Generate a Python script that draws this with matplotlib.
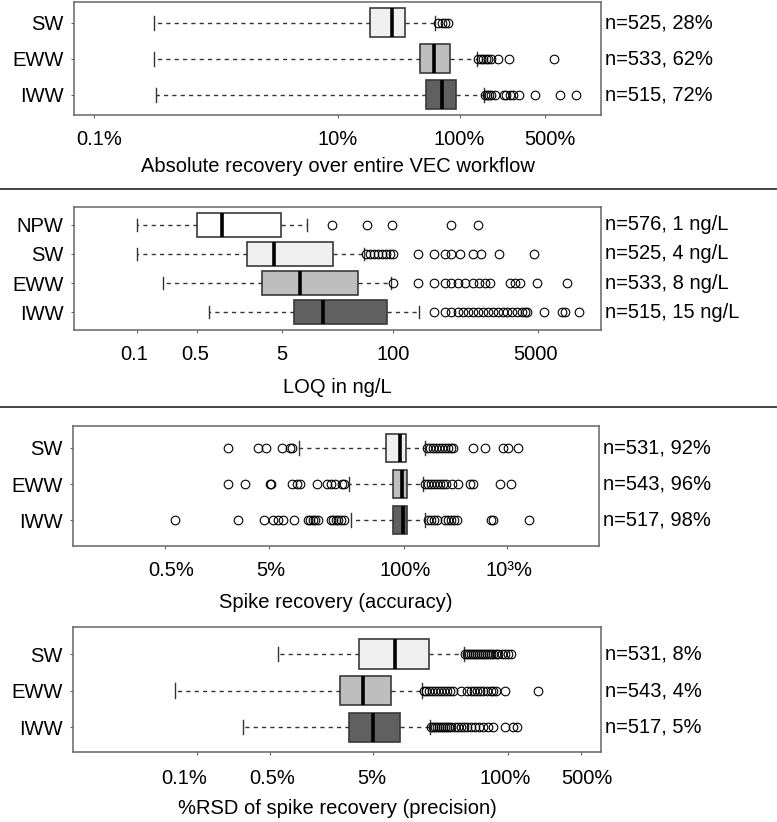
import matplotlib
matplotlib.use('Agg')
import matplotlib.pyplot as plt
from matplotlib.transforms import ScaledTranslation
from matplotlib.lines import Line2D
from matplotlib.ticker import NullLocator

plt.rcParams['font.family'] = ['Liberation Sans', 'DejaVu Sans']

# ---------------- data ----------------
# Panel 1: absolute recovery (%)
p1_groups = ['SW', 'EWW', 'IWW']
p1_counts = [525, 533, 515]
p1_whislo = [0.31, 0.31, 0.32]
p1_q1 = [18.4, 47.3, 52.8]
p1_med = [28, 62, 72]
p1_q3 = [35.7, 82.9, 93.6]
p1_whishi = [62.7, 137.7, 156.7]
p1_fliers = [
    [66.8, 71.4, 75.6, 80.5],
    [141.6, 148.3, 155.3, 162.9, 170.6, 179.0, 205.6, 255, 587],
    [159.6, 165.9, 172.2, 179, 192.8, 232, 241, 259, 275, 307.6, 416, 664, 905],
]
p1_xticks = [0.1, 10, 100, 500]
p1_xticklabels = ['0.1%', '10%', '100%', '500%']
p1_xlabel = 'Absolute recovery over entire VEC workflow'

# Panel 2: LOQ in ng/L
p2_groups = ['NPW', 'SW', 'EWW', 'IWW']
p2_counts = [576, 525, 533, 515]
p2_whislo = [0.1, 0.1, 0.2, 0.69]
p2_q1 = [0.5, 1.94, 2.93, 6.97]
p2_med = [1, 4, 8, 15]
p2_q3 = [4.8, 19.5, 39.1, 83.6]
p2_whishi = [9.9, 45.8, 93, 199]
p2_fliers = [
    [19.3, 49, 98, 481, 977],
    [48.3, 53.8, 60.0, 66.5, 74.1, 82.6, 91.7, 100.7, 196, 298, 399, 481, 611,
     853, 1070, 1733, 4406],
    [100.7, 196, 298, 399, 481, 571, 698, 853, 1016, 1191, 1362, 2322, 2659,
     3034, 4842, 10790],
    [298, 399, 481, 571, 653, 746, 853, 975, 1114, 1274, 1458, 1664, 1905,
     2175, 2485, 2838, 3243, 3467, 3698, 5754, 9414, 10350, 15070],
]
p2_xticks = [0.1, 0.5, 5, 100, 5000]
p2_xticklabels = ['0.1', '0.5', '5', '100', '5000']
p2_xlabel = 'LOQ in ng/L'

# Panel 3: spike recovery (%)
p3_groups = ['SW', 'EWW', 'IWW']
p3_counts = [531, 543, 517]
p3_whislo = [9.8, 29.8, 30.8]
p3_q1 = [67.2, 78.5, 78.5]
p3_med = [92, 96, 98]
p3_q3 = [105.6, 109, 109]
p3_whishi = [160.6, 155, 160.6]
p3_fliers = [
    [2.03, 3.93, 4.68, 6.73, 7.94, 8.39,
     167.5, 179, 191, 205, 218, 233, 249, 267, 285, 301, 467, 615, 903, 1009, 1271],
    [2.03, 2.95, 5.12, 5.23, 8.39, 9.38, 10.0, 14.6, 18.2, 19.8, 21.6, 25.3, 26.7,
     160.6, 171, 183, 196, 209, 223, 239, 255, 291, 335, 441, 467, 855, 1089],
    [0.63, 2.53, 4.49, 5.52, 6.18, 6.89, 8.77, 11.9, 12.6, 13.3, 14.1, 14.9,
     19.8, 20.9, 22.1, 23.4, 24.7, 26.7,
     171, 183, 196, 209, 249, 267, 285, 304, 325, 703, 725, 1622],
]
p3_xticks = [0.5, 5, 100, 1000]
p3_xticklabels = ['0.5%', '5%', '100%', '10³%']
p3_xlabel = 'Spike recovery (accuracy)'

# Panel 4: %RSD of spike recovery
p4_groups = ['SW', 'EWW', 'IWW']
p4_counts = [531, 543, 517]
p4_whislo = [0.60, 0.061, 0.28]
p4_q1 = [3.67, 2.39, 2.94]
p4_med = [8, 4, 5]
p4_q3 = [17.3, 7.41, 8.95]
p4_whishi = [37.0, 14.8, 17.7]
p4_fliers = [
    [38.3, 39.9, 41.7, 43.6, 45.6, 47.6, 49.8, 52.1, 54.3, 56.8, 59.4, 62.1,
     64.9, 67.8, 71.6, 75.7, 80.0, 86.3, 92.3, 98.4, 105.2],
    [15.3, 16.2, 17.3, 18.5, 19.8, 21.1, 22.5, 24.0, 25.7, 27.5, 29.4, 35.0,
     39.9, 43.6, 46.6, 49.8, 53.2, 57.4, 62.1, 67.8, 71.6, 75.7, 92.3, 192.8],
    [18.1, 18.9, 19.8, 20.7, 21.6, 22.5, 23.5, 24.6, 25.7, 26.9, 28.1, 30.7,
     32.7, 35.0, 37.4, 39.9, 43.6, 47.6, 52.1, 57.4, 64.1, 71.6, 92.3, 111.2, 120.2],
]
p4_xticks = [0.1, 0.5, 5, 100, 500]
p4_xticklabels = ['0.1%', '0.5%', '5%', '100%', '500%']
p4_xlabel = '%RSD of spike recovery (precision)'

# ---------------- style / layout ----------------
W, H, DPI = 777, 822, 100
FS = 14.5
FILL = {'NPW': '#ffffff', 'SW': '#f0f0f0', 'EWW': '#bebebe', 'IWW': '#606060'}

fig = plt.figure(figsize=(W / DPI, H / DPI), dpi=DPI)


def ax_at(x0, y0, x1, y1):
    return fig.add_axes([x0 / W, 1 - y1 / H, (x1 - x0) / W, (y1 - y0) / H])


def panel(box, xlim, ylim, groups, counts, whislo, q1, med, q3, whishi, fliers,
          xticks, xticklabels, label_dx, xlabel, xlabel_y, suffix, xpad=8):
    ax = ax_at(*box)
    n = len(groups)
    positions = list(range(n, 0, -1))
    stats = []
    for i in range(n):
        stats.append(dict(whislo=whislo[i], q1=q1[i], med=med[i], q3=q3[i],
                          whishi=whishi[i], fliers=fliers[i], label=groups[i]))
    res = ax.bxp(stats, positions=positions, widths=0.8, orientation='horizontal',
                 patch_artist=True, capwidths=0.4,
                 boxprops=dict(edgecolor='#3a3a3a', linewidth=1.2),
                 medianprops=dict(color='black', linewidth=2.6, solid_capstyle='butt'),
                 whiskerprops=dict(color='#333333', linewidth=1.0, linestyle=(0, (3, 3))),
                 capprops=dict(color='#333333', linewidth=1.0),
                 flierprops=dict(marker='o', markerfacecolor='none',
                                 markeredgecolor='black', markersize=6.2,
                                 markeredgewidth=0.8))
    for patch, g in zip(res['boxes'], groups):
        patch.set_facecolor(FILL[g])
    ax.set_xscale('log')
    ax.set_xlim(*xlim)
    ax.set_ylim(*ylim)
    ax.set_yticks(positions, groups)
    ax.set_xticks(xticks, xticklabels)
    ax.xaxis.set_minor_locator(NullLocator())
    for sp in ax.spines.values():
        sp.set_color('#666666')
        sp.set_linewidth(1.1)
    ax.tick_params(axis='both', labelsize=FS, length=2.5, width=0.8,
                   color='#666666', labelcolor='black')
    ax.tick_params(axis='x', pad=xpad)
    ax.tick_params(axis='y', pad=5)
    for lab, dx in zip(ax.get_xticklabels(), label_dx):
        lab.set_transform(lab.get_transform() +
                          ScaledTranslation(dx / DPI, 0, fig.dpi_scale_trans))
    for i in range(n):
        ax.annotate(f'n={counts[i]}, {med[i]:g}{suffix}', xy=(1, positions[i]),
                    xycoords=ax.get_yaxis_transform(), xytext=(3, 0),
                    textcoords='offset points', ha='left', va='center',
                    fontsize=FS, annotation_clip=False)
    cx = (box[0] + box[2]) / 2
    fig.text(cx / W, 1 - xlabel_y / H, xlabel, ha='center', va='center', fontsize=FS)
    return ax


panel((74, 2, 601, 115), (0.0686, 1439), (0.44, 3.58),
      p1_groups, p1_counts, p1_whislo, p1_q1, p1_med, p1_q3, p1_whishi, p1_fliers,
      p1_xticks, p1_xticklabels, [5, 0, -1, 5], p1_xlabel, 166, '%')
panel((74, 207, 601, 330), (0.01828, 27100), (0.38, 4.62),
      p2_groups, p2_counts, p2_whislo, p2_q1, p2_med, p2_q3, p2_whishi, p2_fliers,
      p2_xticks, p2_xticklabels, [-3, -2, 0, 0, -3], p2_xlabel, 387, ' ng/L')
panel((73, 426, 599, 546), (0.0649, 7656), (0.28, 3.61),
      p3_groups, p3_counts, p3_whislo, p3_q1, p3_med, p3_q3, p3_whishi, p3_fliers,
      p3_xticks, p3_xticklabels, [6, 2, 2, 2], p3_xlabel, 602, '%')
panel((73, 627, 601, 752), (0.00638, 780), (0.32, 3.74),
      p4_groups, p4_counts, p4_whislo, p4_q1, p4_med, p4_q3, p4_whishi, p4_fliers,
      p4_xticks, p4_xticklabels, [-13, 3, -2, -3, 6], p4_xlabel, 808, '%', xpad=10)

for ysep in (189, 407):
    fig.add_artist(Line2D([0, 1], [1 - ysep / H] * 2, color='#444444', linewidth=1.4,
                          transform=fig.transFigure))

fig.savefig('out.png', dpi=DPI)
